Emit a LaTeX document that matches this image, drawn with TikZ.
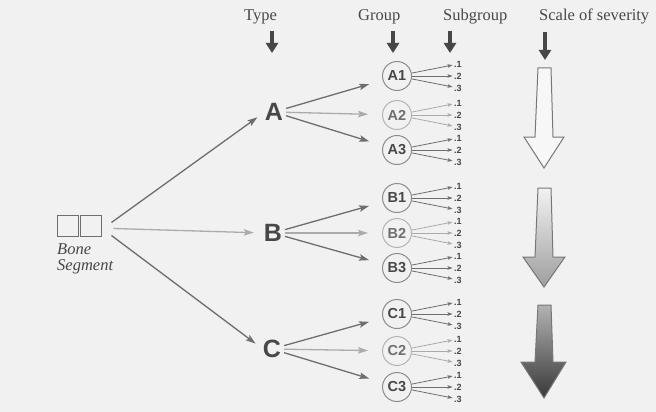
\documentclass[tikz,border=0pt]{standalone}
\usepackage{fontspec}
\setmainfont{Liberation Serif}
\newfontfamily\sansf{Liberation Sans}
\usetikzlibrary{arrows.meta,calc}
\definecolor{paper}{HTML}{F1F1F1}
\definecolor{ink}{HTML}{474747}
\definecolor{inklt}{HTML}{6F6F6F}
\definecolor{dk}{HTML}{6E6E6E}
\definecolor{lt}{HTML}{ABABAB}
\definecolor{cdk}{HTML}{8C8C8C}
\definecolor{clt}{HTML}{B4B4B4}
\definecolor{outl}{HTML}{777777}
\begin{document}
\begin{tikzpicture}[x=1pt,y=-1pt,
  hdr/.style={font=\fontsize{16.5}{18}\selectfont, text=ink, inner sep=0, anchor=base west},
  hdrarrow/.style={line width=3.8pt, draw=ink, -{Triangle[length=10pt,width=12pt]}},
  typ/.style={font=\sansf\bfseries\fontsize{25}{25}\selectfont, text=ink, inner sep=0},
  grp/.style 2 args={circle, draw=#1, line width=1pt, minimum size=29pt, inner sep=0,
     font=\sansf\bfseries\fontsize{14.5}{14.5}\selectfont, text=#2},
  sub/.style={font=\sansf\bfseries\fontsize{9}{9}\selectfont, text=ink, inner sep=0, anchor=west},
  conn/.style={draw=#1, line width=1.3pt, -{Stealth[length=10pt,width=6.5pt,inset=2pt]}},
  subc/.style={draw=#1, line width=0.8pt, shorten >=1.5pt, -{Stealth[length=5pt,width=3.5pt,inset=1pt]}},
  sq/.style={draw=dk, line width=0.9pt, minimum size=21pt, inner sep=0},
  bigarrow/.style={draw=outl, line width=1pt, line join=miter}
]
\fill[paper] (0,0) rectangle (656,412);
\useasboundingbox (0,0) rectangle (656,412);

% headers
\node[hdr] (type) at (244,21) {Type};
\node[hdr] (group) at (358,21) {Group};
\node[hdr] (subg) at (443,21) {Subgroup};
\node[hdr] (scale) at (539,21) {Scale of severity};
\coordinate (typeA) at (272,31);  \coordinate (typeB) at (272,53);
\coordinate (grpA) at (393,31);   \coordinate (grpB) at (393,53);
\coordinate (subA) at (450,31);   \coordinate (subB) at (450,53);
\coordinate (scA) at (545,32);    \coordinate (scB) at (545,60);
\draw[hdrarrow] (typeA) -- (typeB);
\draw[hdrarrow] (grpA) -- (grpB);
\draw[hdrarrow] (subA) -- (subB);
\draw[hdrarrow] (scA) -- (scB);

% bone segment
\node[sq] (sq1) at (67.5,225.5) {};
\node[sq] (sq2) at (90.5,225.5) {};
\node[font=\itshape\fontsize{16.5}{16}\selectfont, text=ink, align=left, anchor=north west, inner sep=0] (bone) at (57,243) {Bone\\Segment};

% types
\node[typ] (A) at (274,112) {A};
\node[typ] (B) at (273,233) {B};
\node[typ] (C) at (272,349) {C};

\draw[conn=dk, shorten >=9pt] ($(sq2.east)+(10,-3)$) -- (A.west);
\draw[conn=lt, shorten >=10pt] ($(sq2.east)+(12,3)$) -- (B.west);
\draw[conn=dk, shorten >=9pt] ($(sq2.east)+(10,10)$) -- (C.west);

% groups and subgroups
\foreach \g/\y/\c/\cc/\tc in {A1/76/dk/cdk/ink, A2/115/lt/clt/inklt, A3/150/dk/cdk/ink,
                          B1/198/dk/cdk/ink, B2/233/lt/clt/inklt, B3/268/dk/cdk/ink,
                          C1/314/dk/cdk/ink, C2/351/lt/clt/inklt, C3/387/dk/cdk/ink} {
  \node[grp={\cc}{\tc}] (\g) at (397,\y) {\g};
  \foreach \k/\dy in {1/-12,2/0,3/12} {
    \node[sub] (\g s\k) at ({454},{\y+(\dy)}) {.\k};
    \draw[subc=\c] (\g) -- (\g s\k);
  }
}
\foreach \t in {A,B,C} {
  \foreach \i/\c in {1/dk,2/lt,3/dk} {
    \draw[conn=\c, shorten >=14pt, shorten <=3pt] (\t) -- (\t\i);
  }
}

% scale of severity arrows
\filldraw[bigarrow, fill=white!97!black] (538,68) -- (551,68) -- (553,137) -- (564,137) -- (544,168) -- (524,137) -- (535,137) -- cycle;
\shade[top color=white!95!black, bottom color=black!38] (538,188) -- (551,188) -- (553,257) -- (565,257) -- (544,287) -- (523,257) -- (535,257) -- cycle;
\draw[bigarrow] (538,188) -- (551,188) -- (553,257) -- (565,257) -- (544,287) -- (523,257) -- (535,257) -- cycle;
\shade[top color=black!30, bottom color=black!78] (538,305) -- (551,305) -- (553,362) -- (566,362) -- (544,398) -- (521,362) -- (535,362) -- cycle;
\draw[bigarrow] (538,305) -- (551,305) -- (553,362) -- (566,362) -- (544,398) -- (521,362) -- (535,362) -- cycle;
\end{tikzpicture}
\end{document}
